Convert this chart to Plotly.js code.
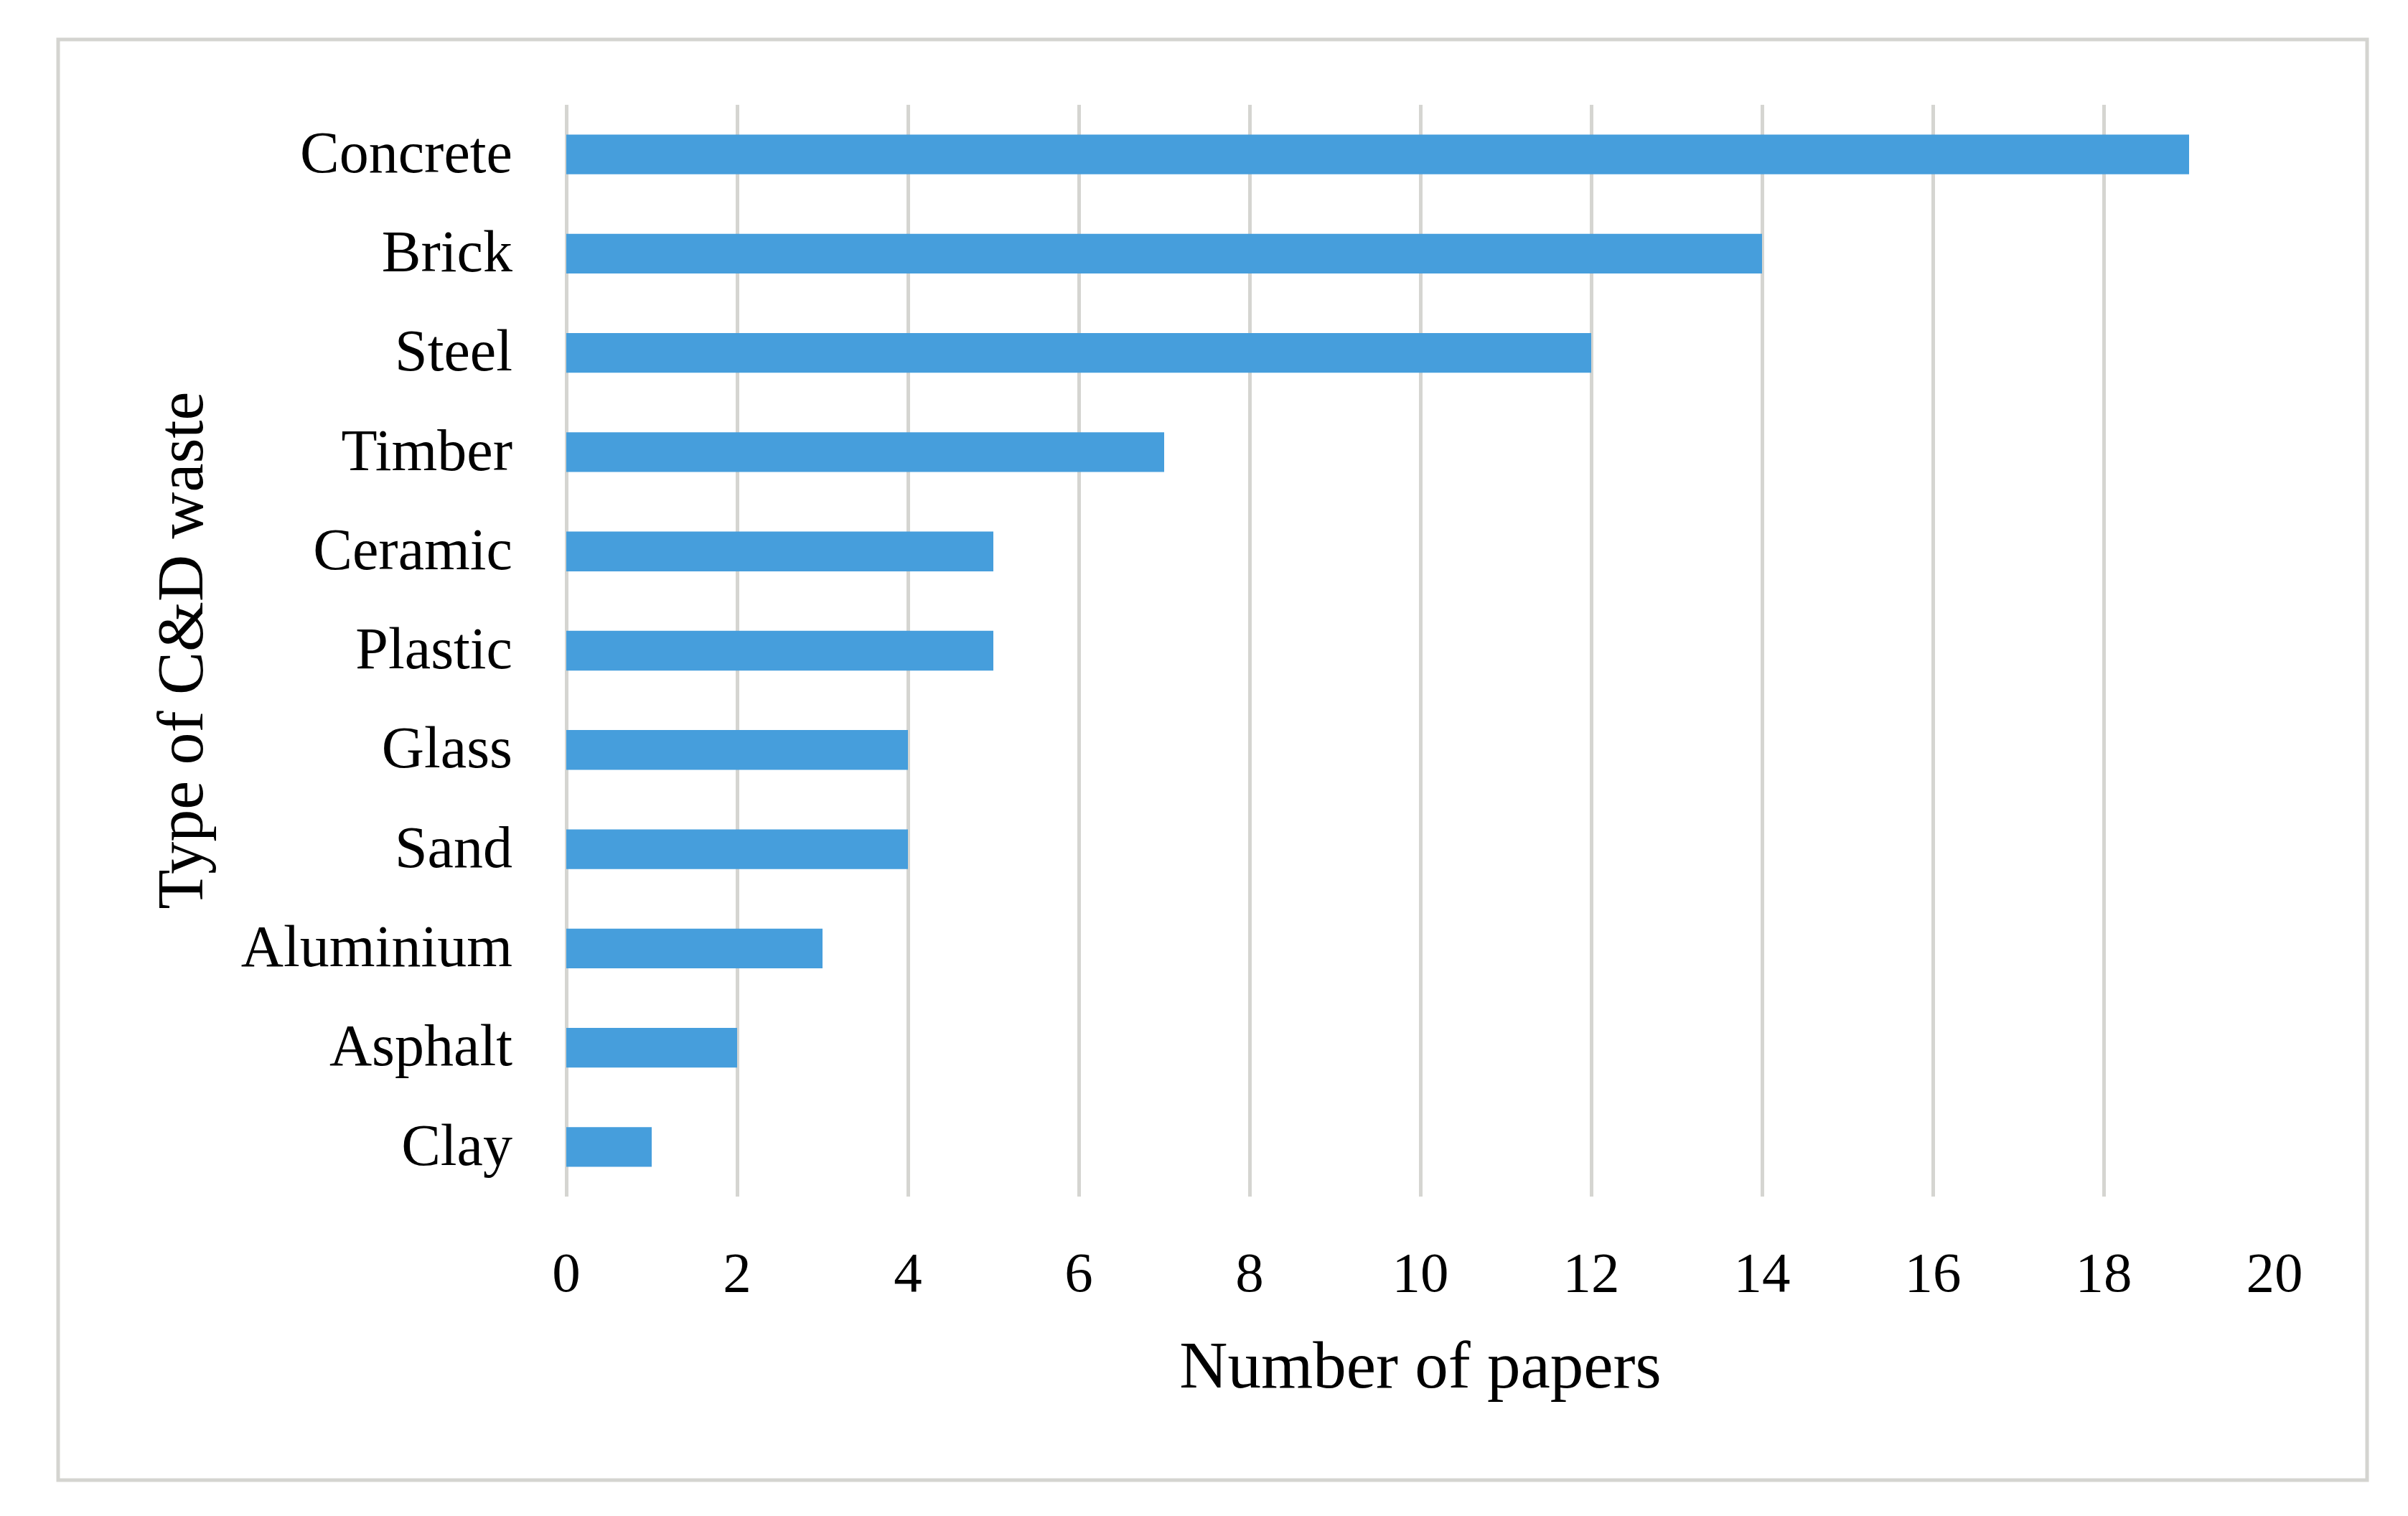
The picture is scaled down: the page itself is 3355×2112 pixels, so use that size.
<!DOCTYPE html>
<html>
<head>
<meta charset="utf-8">
<script src="https://cdn.plot.ly/plotly-3.0.1.min.js"></script>
<style>html,body{margin:0;padding:0;background:#fff;}#chart{width:3355px;height:2112px;}</style>
</head>
<body>
<div id="chart"></div>
<script>
const categories = ["Concrete","Brick","Steel","Timber","Ceramic","Plastic","Glass","Sand","Aluminium","Asphalt","Clay"];
const papers = [19,14,12,7,5,5,4,4,3,2,1];
const xTicks = [0,2,4,6,8,10,12,14,16,18,20];

const W = 3355, H = 2112;
const plotL = 789, plotR = 3169, plotT = 146, plotB = 1667;
const pw = plotR - plotL, ph = plotB - plotT;
const px = v => (v - plotL) / pw;
const py = v => (plotB - v) / ph;

const fontFam = '"Liberation Serif", "Times New Roman", serif';
const gridCol = '#D5D5D1';

const trace = {
  type: 'bar',
  orientation: 'h',
  x: papers,
  y: categories,
  marker: {color: '#469EDC', line: {width: 0}},
  hoverinfo: 'x+y'
};

const layout = {
  width: W, height: H,
  margin: {l: plotL, r: W - plotR, t: plotT, b: H - plotB, pad: 0},
  paper_bgcolor: '#ffffff',
  plot_bgcolor: '#ffffff',
  bargap: 0.6,
  showlegend: false,
  font: {family: fontFam, color: '#000000', size: 78},
  xaxis: {
    range: [0, 20],
    tickmode: 'array',
    tickvals: xTicks,
    ticktext: xTicks.map(String),
    showgrid: true,
    gridcolor: gridCol,
    gridwidth: 5,
    zeroline: true,
    zerolinecolor: gridCol,
    zerolinewidth: 5,
    showline: false,
    ticks: '',
    ticklabelstandoff: 52,
    tickfont: {family: fontFam, size: 79, color: '#000'},
    title: {text: 'Number of papers', font: {family: fontFam, size: 93, color: '#000'}, standoff: 0},
    fixedrange: true
  },
  yaxis: {
    type: 'category',
    autorange: 'reversed',
    showgrid: false,
    zeroline: false,
    showline: false,
    ticks: '',
    ticklabelstandoff: 74,
    tickfont: {family: fontFam, size: 82, color: '#000'},
    title: {text: 'Type of C&amp;D waste', font: {family: fontFam, size: 90, color: '#000'}, standoff: 0},
    fixedrange: true
  },
  shapes: [{
    type: 'rect', xref: 'paper', yref: 'paper',
    x0: px(81), x1: px(3298), y0: py(2062), y1: py(55),
    line: {color: '#D4D4D0', width: 5},
    fillcolor: 'rgba(0,0,0,0)',
    layer: 'below'
  }]
};

Plotly.newPlot('chart', [trace], layout, {displayModeBar: false, staticPlot: true}).then(() => {
  const xt = document.querySelector('.g-xtitle text');
  const yt = document.querySelector('.g-ytitle text');
  if (xt) { xt.setAttribute('x', 1979); xt.setAttribute('y', 1915); }
  if (yt) {
    yt.setAttribute('x', 282); yt.setAttribute('y', 906);
    yt.setAttribute('transform', 'rotate(-90,282,906)');
  }
  document.querySelectorAll('.ytick text').forEach(t => {
    const tr = t.getAttribute('transform') || '';
    t.setAttribute('transform', tr + ' translate(0,-4)');
  });
});
</script>
</body>
</html>
